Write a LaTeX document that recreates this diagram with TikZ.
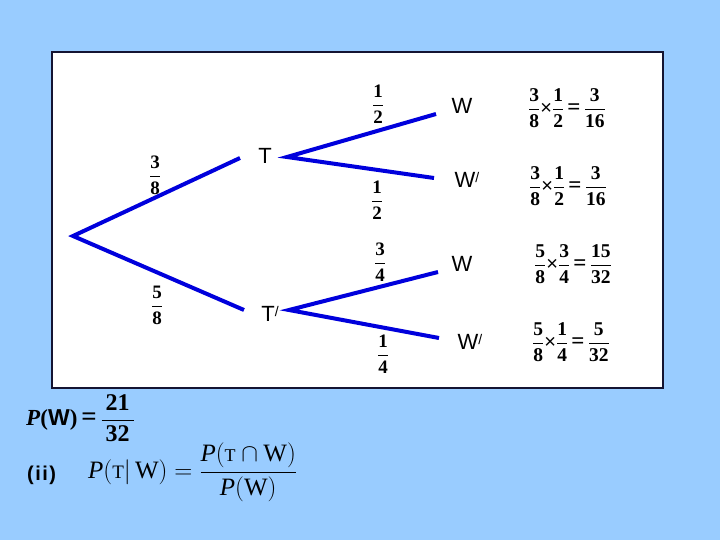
\documentclass[tikz,border=0pt]{standalone}
\usepackage{fix-cm}
\usepackage{fontspec}
\setmainfont{Liberation Serif}
\newfontfamily\sansf{Liberation Sans}
\definecolor{bgblue}{RGB}{153,204,255}
\definecolor{branchblue}{RGB}{0,0,220}
\definecolor{boxedge}{RGB}{20,20,50}
\newcommand\prm{\raisebox{0.5ex}{\fontsize{14}{14}\selectfont /}}
\newcommand\fr[2]{$\displaystyle\frac{\textbf{#1}}{\textbf{#2}}$}
\newcommand\bfr[2]{\frac{\textbf{#1}}{\textbf{#2}}}
\newcommand\tms{\mathord{\mbox{\sansf\fontsize{20}{20}\selectfont ×}}}
\newcommand\beq{\mathord{\mbox{\bfseries\fontsize{23}{23}\selectfont =}}}
\newcommand\prodfr[6]{$\displaystyle\bfr{#1}{#2}\tms\bfr{#3}{#4}\,\beq\,\bfr{#5}{#6}$}
\begin{document}
\begin{tikzpicture}[x=1pt,y=-1pt,
  branch/.style={draw=branchblue,line width=4pt},
  lbl/.style={font=\sansf\fontsize{22}{24}\selectfont,inner sep=0pt},
  prob/.style={font=\fontsize{19}{21}\selectfont,inner sep=0pt},
  prodn/.style={font=\fontsize{19.5}{21}\selectfont,inner sep=0pt}]
\fill[bgblue] (0,0) rectangle (720,540);
\useasboundingbox (0,0) rectangle (720,540);
\draw[fill=white,draw=boxedge,line width=1.2pt] (52,52) rectangle (663,388);
% coordinates
\coordinate (root) at (73,236);
\coordinate (t1in) at (240,158);
\coordinate (t2in) at (244,310);
\coordinate (t1out) at (287,157);
\coordinate (t2out) at (289,310);
\coordinate (w1) at (436,114);
\coordinate (w2) at (434,178);
\coordinate (w3) at (438,272);
\coordinate (w4) at (439,338);
\draw[branch] (t1in) -- (root) -- (t2in);
\draw[branch] (w1) -- (t1out) -- (w2);
\draw[branch] (w3) -- (t2out) -- (w4);
% labels
\node[lbl] (T) at (265,156) {T};
\node[lbl] (Tp) at (270,314) {T\prm};
\node[lbl] (W1) at (462,106) {W};
\node[lbl] (W2) at (467,180) {W\prm};
\node[lbl] (W3) at (462,264) {W};
\node[lbl] (W4) at (470,342) {W\prm};
% probabilities
\node[prob] (p1) at (155,175) {\fr{3}{8}};
\node[prob] (p2) at (157,305) {\fr{5}{8}};
\node[prob] (p3) at (378,104) {\fr{1}{2}};
\node[prob] (p4) at (377,200) {\fr{1}{2}};
\node[prob] (p5) at (380,262) {\fr{3}{4}};
\node[prob] (p6) at (383,354) {\fr{1}{4}};
% products
\node[prodn] (r1) at (567,108) {\prodfr{3}{8}{1}{2}{3}{16}};
\node[prodn] (r2) at (568,186) {\prodfr{3}{8}{1}{2}{3}{16}};
\node[prodn] (r3) at (573,264) {\prodfr{5}{8}{3}{4}{15}{32}};
\node[prodn] (r4) at (571,342) {\prodfr{5}{8}{1}{4}{5}{32}};
% bottom formulas
\node[anchor=west,inner sep=0pt,font=\fontsize{23}{26}\selectfont] (pw) at (26,418)
  {$\displaystyle \textbf{\textit{P}}\textbf{(}\mbox{\sansf\bfseries W}\textbf{)}\,\mathord{\mbox{\bfseries\fontsize{27}{27}\selectfont =}}\,\frac{\textbf{\fontsize{24}{26}\selectfont\,21\,}}{\textbf{\fontsize{24}{26}\selectfont\,32\,}}$};
\node[anchor=west,inner sep=0pt,font=\sansf\bfseries\fontsize{20}{22}\selectfont] (ii) at (27,475) {(\kern1.5pt i\kern1.5pt i\kern1.5pt)};
\node[anchor=west,inner sep=0pt,font=\fontsize{25}{28}\selectfont] (cond) at (88,472)
  {$\displaystyle \textit{P}\Bigl(\mbox{\fontsize{19}{20}\selectfont T}|\,\mbox{W}\Bigr)
   =\frac{\textit{P}\bigl(\mbox{\fontsize{18}{20}\selectfont T}\cap\mbox{W}\bigr)}{\textit{P}\bigl(\mbox{W}\bigr)}$};
\end{tikzpicture}
\end{document}
